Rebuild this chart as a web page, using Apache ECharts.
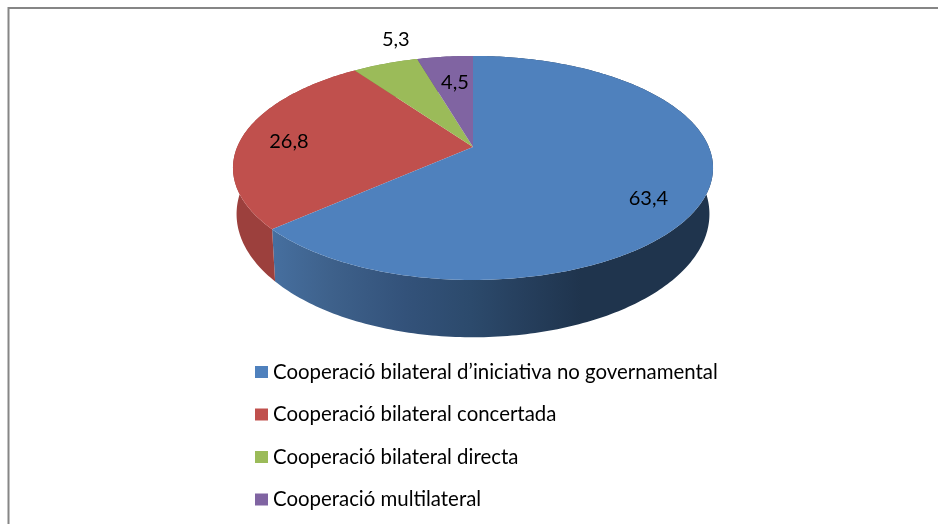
<!DOCTYPE html>
<html>
<head>
<meta charset="utf-8">
<style>html,body{margin:0;padding:0;background:#fff}#c{width:938px;height:524px}</style>
<script src="https://cdn.jsdelivr.net/npm/echarts@6/dist/echarts.min.js"></script>
</head>
<body>
<div id="c"></div>
<script>
const categories = [
  "Cooperació bilateral d’iniciativa no governamental",
  "Cooperació bilateral concertada",
  "Cooperació bilateral directa",
  "Cooperació multilateral"
];
const values = [63.4, 26.8, 5.3, 4.5];
const valueLabels = ["63,4", "26,8", "5,3", "4,5"];
const topColors = ["#4F81BD", "#C0504D", "#9BBB59", "#8064A2"];

// layout of the tilted disc (perspective projection of a circle)
const CX = 473, CY = 147, RX = 235.8, RY = 108.1, K = 0.187;
const WALL_PIVOT = 191, WALL_SX = 0.985, WALL_SY = 1.1;
const labelRadius = [0.8, 0.79, 1.3, 0.68];
const labelNudge = [[-8, 14], [-2, 4], [32, -4], [2, 0]];
const FONT = "Lato, Carlito, 'Open Sans', sans-serif";

const total = values.reduce((a, b) => a + b, 0);
function angles(i) {
  let s = 0;
  for (let j = 0; j < i; j++) s += values[j];
  return [s / total * 2 * Math.PI, (s + values[i]) / total * 2 * Math.PI];
}
function project(a, r) {
  const u = r * Math.sin(a), v = -r * Math.cos(a), d = 1 - K * v;
  return [CX + RX * u / d, CY + RY * v / d];
}
function toBottom(p) {
  return [CX + (p[0] - CX) * WALL_SX, WALL_PIVOT + (p[1] - CY) * WALL_SY];
}
function rim(a0, a1) {
  const n = Math.max(2, Math.ceil((a1 - a0) * 60)), pts = [];
  for (let t = 0; t <= n; t++) pts.push(project(a0 + (a1 - a0) * t / n, 1));
  return pts;
}
const wallFills = [
  {
    type: "linear", global: true, x: 273, y: 0, x2: 713, y2: 0,
    colorStops: [
      { offset: 0, color: "#466f9f" },
      { offset: 0.13, color: "#3e618b" },
      { offset: 0.3, color: "#33527a" },
      { offset: 0.45, color: "#2c4a6c" },
      { offset: 0.57, color: "#263f5d" },
      { offset: 0.7, color: "#1f344d" },
      { offset: 1, color: "#1f344d" }
    ]
  },
  "#9c403d", "#7a9346", "#64507f"
];

function renderSlice(i) {
  return function () {
    const [a0, a1] = angles(i);
    const arc = rim(a0, a1);
    const bottom = arc.map(toBottom).reverse();
    const mid = (a0 + a1) / 2;
    const lp = project(mid, labelRadius[i]);
    return {
      type: "group",
      children: [
        { type: "polygon", z2: 1, shape: { points: arc.concat(bottom) }, style: { fill: wallFills[i] } },
        { type: "polygon", z2: 5 + (i === 0 ? 1 : 0), shape: { points: [[CX, CY]].concat(arc) }, style: { fill: topColors[i] } },
        {
          type: "text", z2: 10,
          x: lp[0] + labelNudge[i][0], y: lp[1] + labelNudge[i][1],
          style: { text: valueLabels[i], fill: "#000", font: "20px " + FONT, align: "center", verticalAlign: "middle" }
        }
      ]
    };
  };
}

const chart = echarts.init(document.getElementById("c"), null, { renderer: "canvas" });
chart.setOption({
  animation: false,
  backgroundColor: "#fff",
  legend: {
    orient: "vertical",
    left: 255, top: 362,
    padding: 0,
    itemWidth: 13, itemHeight: 12,
    itemGap: 22.5,
    icon: "rect",
    selectedMode: false,
    data: categories,
    textStyle: { fontFamily: FONT, fontSize: 20.4, color: "#000", lineHeight: 20, padding: [0, 0, 0, 0] }
  },
  graphic: [
    { type: "line", shape: { x1: 8.5, y1: 8, x2: 938, y2: 8 }, style: { stroke: "#868686", lineWidth: 2 } },
    { type: "line", shape: { x1: 8.5, y1: 7, x2: 8.5, y2: 524 }, style: { stroke: "#868686", lineWidth: 2 } }
  ],
  series: categories.map((name, i) => ({
    type: "custom",
    name,
    coordinateSystem: "none",
    silent: true,
    itemStyle: { color: topColors[i] },
    data: [values[i]],
    renderItem: renderSlice(i)
  }))
});
</script>
</body>
</html>
